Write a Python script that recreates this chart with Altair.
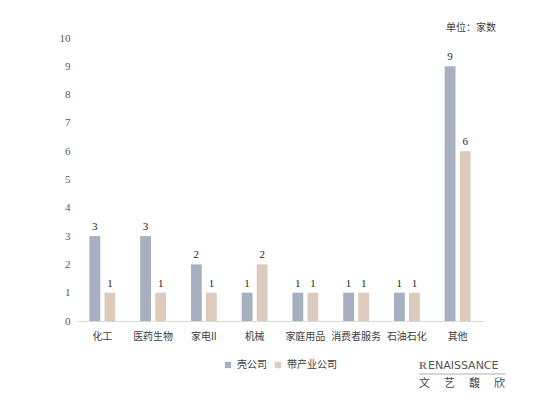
import altair as alt
import pandas as pd

categories = ["化工", "医药生物", "家电II", "机械", "家庭用品", "消费者服务", "石油石化", "其他"]
series_names = ["壳公司", "带产业公司"]
shell_values = [3, 3, 2, 1, 1, 1, 1, 9]
industry_values = [1, 1, 1, 2, 1, 1, 1, 6]
colors = ["#a6b0c0", "#dccbbd"]

rows = []
for c, a, b in zip(categories, shell_values, industry_values):
    rows.append({"category": c, "series": series_names[0], "value": a})
    rows.append({"category": c, "series": series_names[1], "value": b})
df = pd.DataFrame(rows)

CJK = "Noto Sans CJK SC"
NUM = "Liberation Serif"

x_scale = alt.Scale(paddingInner=0.49, paddingOuter=0.245)
x_enc = alt.X("category:N", sort=categories, scale=x_scale,
              axis=alt.Axis(title=None, labelAngle=0, ticks=False, domainColor="#d9d9d9",
                            domainWidth=1, labelFont=CJK, labelFontSize=10,
                            labelColor="#404040", labelPadding=10))
xoff = alt.XOffset("series:N", sort=series_names, scale=alt.Scale(paddingInner=0.28))
y_scale = alt.Scale(domain=[0, 10])
y_enc = alt.Y("value:Q", scale=y_scale,
              axis=alt.Axis(title=None, values=list(range(11)), grid=False, domain=False,
                            ticks=False, labelFont=NUM, labelFontSize=11, labelOverlap=False,
                            labelColor="#595959", labelPadding=7))

base = alt.Chart(df)
bars = base.mark_bar().encode(
    x=x_enc, xOffset=xoff, y=y_enc,
    color=alt.Color("series:N", sort=series_names,
                    scale=alt.Scale(domain=series_names, range=colors),
                    legend=alt.Legend(title=None, orient="none", direction="horizontal",
                                      legendX=146, legendY=322, symbolType="square",
                                      symbolSize=40, labelFont=CJK, labelFontSize=10,
                                      labelColor="#404040", columnPadding=6,
                                      symbolStrokeWidth=0)),
)
labels = base.mark_text(baseline="bottom", dy=-4, font=NUM, fontSize=11, color="#262626").encode(
    x=x_enc, xOffset=xoff, y=y_enc, text="value:Q",
)

unit = alt.Chart(pd.DataFrame({"t": ["单位：家数"]})).mark_text(
    align="left", baseline="middle", font=CJK, fontSize=10, color="#404040"
).encode(x=alt.value(369), y=alt.value(-10), text="t:N")

logo_r = alt.Chart(pd.DataFrame({"t": ["R"]})).mark_text(
    align="left", baseline="middle", font=NUM, fontSize=11, fontWeight="bold", color="#8a7a60"
).encode(x=alt.value(342), y=alt.value(328), text="t:N")
logo1 = alt.Chart(pd.DataFrame({"t": ["ENAISSANCE"]})).mark_text(
    align="left", baseline="middle", font="DejaVu Sans", fontSize=11, color="#555555"
).encode(x=alt.value(351), y=alt.value(328), text="t:N")
logo_line = alt.Chart(pd.DataFrame({"a": [0]})).mark_rule(color="#999999", strokeWidth=0.8).encode(
    x=alt.value(342), x2=alt.value(429), y=alt.value(336))

logo_chars = ["文", "艺", "馥", "欣"]
logo_char_x = [342, 367, 392, 417]
char_layers = [
    alt.Chart(pd.DataFrame({"t": [ch]})).mark_text(
        align="left", baseline="middle", font=CJK, fontSize=11, color="#444444"
    ).encode(x=alt.value(px), y=alt.value(346), text="t:N")
    for ch, px in zip(logo_chars, logo_char_x)
]

chart = alt.layer(bars, labels, unit, logo_r, logo1, logo_line, *char_layers).properties(
    width=406, height=283,
    autosize=alt.AutoSizeParams(type="none"),
    padding={"left": 77, "top": 38, "right": 67, "bottom": 77},
    background="white",
).configure_view(stroke=None)

chart.save("out.html", embed_options={"renderer": "svg", "actions": False})
